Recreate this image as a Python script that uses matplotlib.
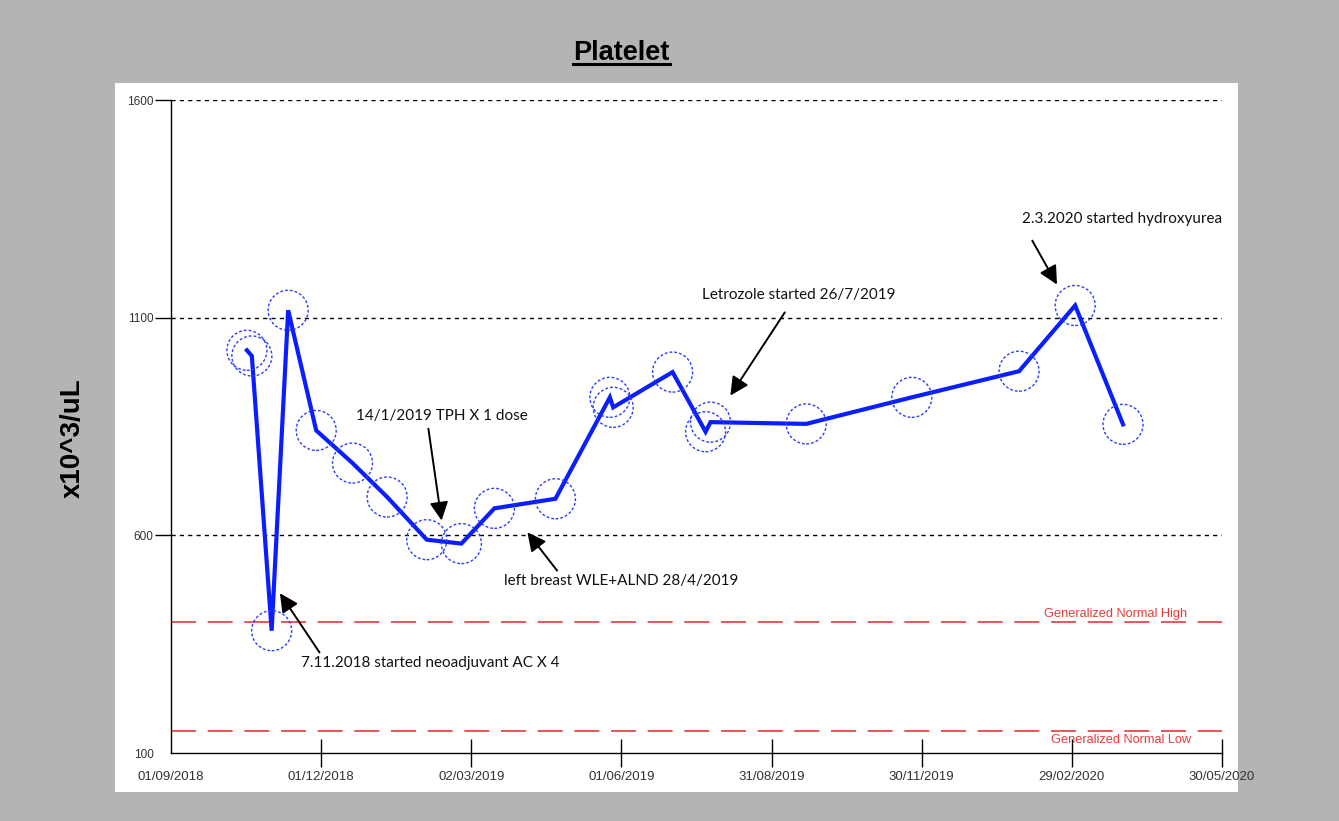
import numpy as np
import matplotlib
matplotlib.use('Agg')
import matplotlib.pyplot as plt
import matplotlib.dates as mdates
from matplotlib.patches import Rectangle
from matplotlib.lines import Line2D

# platelet counts
dates = ['2018-10-17', '2018-10-20', '2018-11-01', '2018-11-11', '2018-11-28',
         '2018-12-20', '2019-01-10', '2019-02-03', '2019-02-24', '2019-03-16',
         '2019-04-22', '2019-05-25', '2019-05-27', '2019-07-02', '2019-07-22',
         '2019-07-25', '2019-09-21', '2019-11-24', '2020-01-28', '2020-03-02',
         '2020-03-31']
values = [1025, 1012, 381, 1117, 841, 766, 688, 590, 581, 662, 684, 917, 894,
          975, 838, 860, 856, 917, 977, 1128, 855]

x_ticks = ['2018-09-01', '2018-12-01', '2019-03-02', '2019-06-01', '2019-08-31',
           '2019-11-30', '2020-02-29', '2020-05-30']
y_ticks = [100, 600, 1100, 1600]
normal_high = 400
normal_low = 150

notes = ['7.11.2018 started neoadjuvant AC X 4',
         '14/1/2019 TPH X 1 dose',
         'left breast WLE+ALND 28/4/2019',
         'Letrozole started 26/7/2019',
         '2.3.2020 started hydroxyurea']
# (text day, text value, arrow tail day, tail value, tip day, tip value), days from 01/09/2018
note_pos = [(79, 306, 90, 331, 66, 467),
            (112, 875, 156, 845, 164, 634),
            (202, 496, 234, 519, 216, 607),
            (322, 1153, 372, 1112, 339, 921),
            (516, 1327, 522, 1277, 537, 1176)]

W, H = 1339, 821
fig = plt.figure(figsize=(W / 100, H / 100), dpi=100, facecolor='#b4b4b4')
fig.patches.append(Rectangle((115 / W, 1 - 792 / H), 1123 / W, 709 / H,
                             transform=fig.transFigure, facecolor='white',
                             edgecolor='none', zorder=-5))

ax = fig.add_axes([171 / W, 1 - 753 / H, (1222 - 171) / W, (753 - 100) / H])
ax.set_facecolor('none')

d = np.array(dates, dtype='datetime64[D]')
blue = '#0a1eff'
ax.plot(d, values, color=blue, lw=3.0, zorder=4, solid_joinstyle='miter')
ax.scatter(d, values, s=830, facecolors='none', edgecolors='#2a3cff',
           linewidths=1.0, linestyles=(0, (2, 1.5)), zorder=5)

x0 = np.datetime64('2018-09-01')
ax.set_xlim(x0, np.datetime64('2020-05-30'))
ax.set_ylim(100, 1600)

for yv in [600, 1100, 1600]:
    ax.axhline(yv, color='black', lw=1.0, ls=(0, (3, 3)), zorder=1)
red = '#e83a3a'
ax.axhline(normal_high, color=red, lw=1.2, ls=(0, (15, 7)), zorder=1)
ax.axhline(normal_low, color=red, lw=1.2, ls=(0, (15, 7)), zorder=1)

base = mdates.date2num(x0)
ax.text(base + 616, normal_high + 20, 'Generalized Normal High', color=red,
        fontsize=9.2, ha='right', va='center', family='Liberation Sans')
ax.text(base + 618, normal_low - 21, 'Generalized Normal Low', color=red,
        fontsize=9.2, ha='right', va='center', family='Liberation Sans')

for s in ['top', 'right']:
    ax.spines[s].set_visible(False)
for s in ['left', 'bottom']:
    ax.spines[s].set_color('black')
    ax.spines[s].set_linewidth(1.0)

ax.set_xticks(np.array(x_ticks, dtype='datetime64[D]'))
ax.xaxis.set_major_formatter(mdates.DateFormatter('%d/%m/%Y'))
ax.tick_params(axis='x', direction='inout', length=20, width=1, pad=3,
               labelsize=9.5, labelcolor='#333333')
ax.set_yticks(y_ticks)
ax.tick_params(axis='y', direction='out', length=11.5, width=1, pad=1,
               labelsize=8.5, labelcolor='#333333')
ax.yaxis.get_major_ticks()[0].tick1line.set_visible(False)
ax.xaxis.get_major_ticks()[0].tick1line.set_visible(False)
for lab in ax.get_xticklabels() + ax.get_yticklabels():
    lab.set_family('Liberation Sans')

for txt, (tx, ty, ax_, ay, hx, hy) in zip(notes, note_pos):
    ax.text(base + tx, ty, txt, fontsize=11, family='Lato', ha='left',
            va='center', color='#111111', zorder=6)
    ax.annotate('', xy=(base + hx, hy), xytext=(base + ax_, ay),
                arrowprops=dict(arrowstyle='-|>', color='black', lw=1.4,
                                mutation_scale=28, shrinkA=0, shrinkB=0),
                zorder=6)

fig.text(621 / W, 1 - 60 / H, 'Platelet', fontsize=19.5, fontweight='bold',
         family='Liberation Sans', ha='center', va='baseline')
fig.add_artist(Line2D([573 / W, 670 / W], [1 - 64.5 / H, 1 - 64.5 / H],
                      color='black', lw=2.2, transform=fig.transFigure))
fig.text(73 / W, 1 - 438 / H, 'x10^3/uL', fontsize=20, fontweight='bold',
         family='Liberation Sans', rotation=90, ha='center', va='center')

fig.savefig('out.png', dpi=100, facecolor=fig.get_facecolor())
